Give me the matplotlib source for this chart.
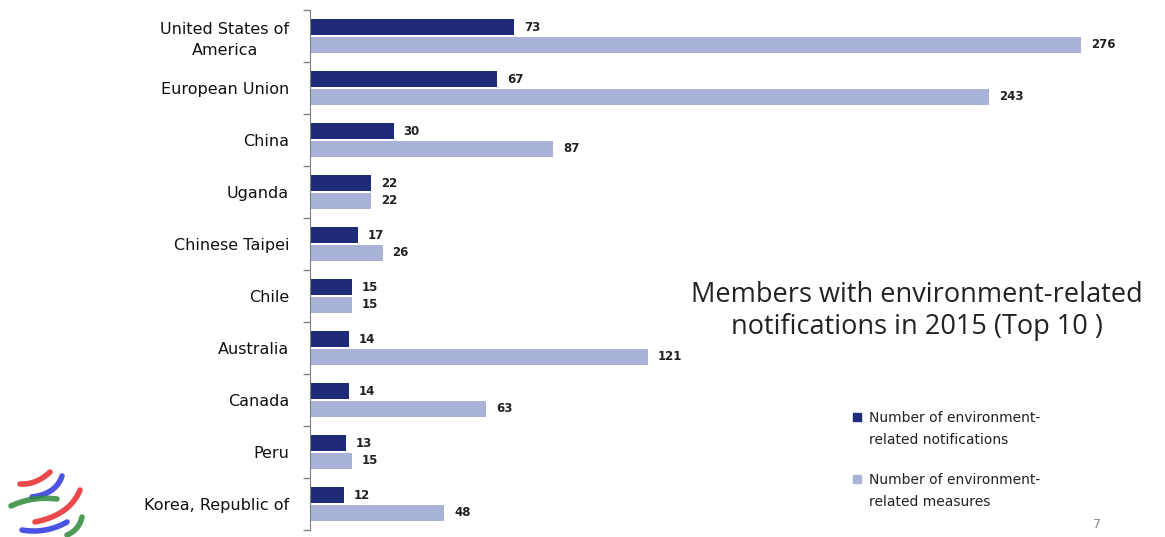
import numpy as np
import matplotlib
matplotlib.use("Agg")
import matplotlib.pyplot as plt

# --- chart data (top to bottom) ---
members = ["United States of\nAmerica", "European Union", "China", "Uganda",
           "Chinese Taipei", "Chile", "Australia", "Canada", "Peru",
           "Korea, Republic of"]
notifications = [73, 67, 30, 22, 17, 15, 14, 14, 13, 12]
measures = [276, 243, 87, 22, 26, 15, 121, 63, 15, 48]

title = "Members with environment-related\nnotifications in 2015 (Top 10 )"
legend_labels = ["Number of environment-\nrelated notifications",
                 "Number of environment-\nrelated measures"]

dark = "#1f2a78"
light = "#a9b3d8"
W, H = 1165, 537

fig = plt.figure(figsize=(W / 100, H / 100), dpi=100)
ax = fig.add_axes([310 / W, 1 - 530 / H, 1 - 310 / W, 520 / H])

y = np.arange(len(members))
bh = 0.31
ax.barh(y - 0.165, notifications, height=bh, color=dark)
ax.barh(y + 0.165, measures, height=bh, color=light)

for yi, v in zip(y, notifications):
    ax.text(v + 3.5, yi - 0.165, str(v), va="center", ha="left",
            fontsize=8.5, fontweight="bold", color="#222222")
for yi, v in zip(y, measures):
    ax.text(v + 3.5, yi + 0.165, str(v), va="center", ha="left",
            fontsize=8.5, fontweight="bold", color="#222222")

ax.set_xlim(0, (W - 310) / 2.795)
ax.set_ylim(len(members) - 0.5, -0.5)
ax.set_xticks([])
ax.set_yticks(y)
ax.set_yticklabels(members, fontsize=11.5, color="#111111", ha="right",
                   multialignment="center", linespacing=1.5)
ax.set_yticks(np.arange(len(members) + 1) - 0.5, minor=True)
ax.tick_params(axis="y", which="major", length=0, pad=15)
ax.tick_params(axis="y", which="minor", length=5, color="#808080", width=1)
for s in ["top", "right", "bottom"]:
    ax.spines[s].set_visible(False)
ax.spines["left"].set_color("#808080")

# title inside plot area
fig.text(917 / W, 1 - 311 / H, title, ha="center", va="center",
         fontsize=19.5, family="Open Sans", color="#222222", linespacing=1.2)

# legend drawn by hand
for (ly, col, lab) in [(429, dark, legend_labels[0]),
                       (491, light, legend_labels[1])]:
    fig.patches.append(plt.Rectangle((853 / W, 1 - (ly - 8) / H), 8 / W, 8 / H,
                                     transform=fig.transFigure, color=col))
    fig.text(869 / W, 1 - ly / H, lab, ha="left", va="center", fontsize=10,
             color="#222222", linespacing=1.75)

fig.text(1097 / W, 1 - 524 / H, "7", ha="center", va="center", fontsize=9,
         color="#8a8a8a")

# WTO-style logo
lg = fig.add_axes([0, 0, 1, 1], zorder=-1)
lg.set_xlim(0, W)
lg.set_ylim(H, 0)
lg.axis("off")
arcs = [((20, 484), (36, 485), (50, 472), "#e8282b"),
        ((32, 497), (56, 494), (62, 476), "#2a35e0"),
        ((11, 506), (32, 496), (57, 499), "#2f8a3a"),
        ((35, 522), (70, 515), (80, 490), "#e8282b"),
        ((22, 530), (46, 534), (67, 522), "#2a35e0"),
        ((67, 535), (79, 530), (82, 517), "#2f8a3a")]
t = np.linspace(0, 1, 30)
for p0, p1, p2, c in arcs:
    bx = (1 - t) ** 2 * p0[0] + 2 * (1 - t) * t * p1[0] + t ** 2 * p2[0]
    by = (1 - t) ** 2 * p0[1] + 2 * (1 - t) * t * p1[1] + t ** 2 * p2[1]
    lg.plot(bx, by, color=c, lw=4, solid_capstyle="round", alpha=0.85)

fig.savefig("out.png", dpi=100)
